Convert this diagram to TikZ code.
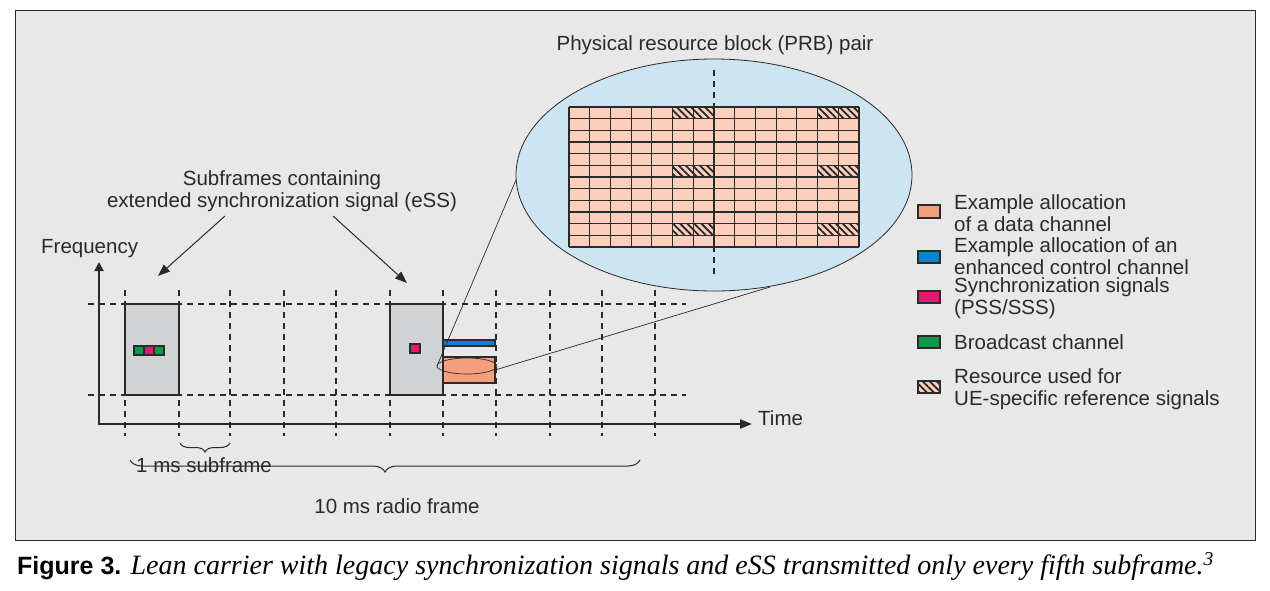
\documentclass[tikz,border=0pt]{standalone}
\usepackage{fontspec}
\setmainfont{Liberation Serif}
\setsansfont{Liberation Sans}
\usetikzlibrary{arrows.meta,decorations.pathreplacing,patterns.meta}
\definecolor{bg}{HTML}{E8E8E8}
\definecolor{sub}{HTML}{D0D2D4}
\definecolor{salm}{HTML}{F4A07E}
\definecolor{salml}{HTML}{FDD0BE}
\definecolor{bluec}{HTML}{0A84D0}
\definecolor{pinkc}{HTML}{E6176F}
\definecolor{greenc}{HTML}{0A9A4A}
\definecolor{ell}{HTML}{CDE4F2}
\definecolor{txt}{HTML}{2A2A2A}
\begin{document}
\begin{tikzpicture}[x=1pt,y=-1pt,
  lab/.style={font=\sffamily\fontsize{20.5}{22}\selectfont,text=txt,align=left,inner sep=0},
  dsh/.style={dash pattern=on 6pt off 5pt,line width=1.1pt,draw=txt},
  box/.style={draw=txt,line width=1.1pt},
  hatch/.style={pattern={Lines[angle=-45,distance=5pt,line width=1.8pt]},pattern color=black!85}]
\useasboundingbox (0,0) rectangle (1270,590);
\fill[white] (0,0) rectangle (1270,590);
\draw[fill=bg,draw=txt,line width=1pt] (15,10) rectangle (1255,540);
% caption
\node[anchor=west,inner sep=0] (cap) at (17,567) {\sffamily\bfseries\fontsize{25}{28}\selectfont Figure 3. \normalfont\rmfamily\itshape\fontsize{28}{30}\selectfont Lean carrier with legacy synchronization signals and eSS transmitted only every fifth subframe.\textsuperscript{3}};
% subframe boxes
\draw[box,fill=sub] (125,304) rectangle (179,395);
\draw[box,fill=sub] (390,304) rectangle (443,395);
% grid dashed
\foreach \x in {125,179,230,284,336,390,443,496,550,602,655}
  \draw[dsh] (\x,290) -- (\x,436);
\draw[dsh] (88,304) -- (686,304);
\draw[dsh] (88,395) -- (686,395);
% axes
\draw[line width=2.2pt,draw=txt,-{Triangle[length=9pt,width=9pt]}] (99,425) -- (99,262);
\draw[line width=2.2pt,draw=txt,-{Triangle[length=12pt,width=9pt]}] (98,424) -- (752,424);
\node[lab,anchor=west] (freq) at (41,249) {Frequency};
\node[lab,anchor=west] (time) at (758,418) {Time};
% small squares
\draw[box,fill=greenc] (134,346) rectangle (144,355);
\draw[box,fill=pinkc] (144,346) rectangle (154,355);
\draw[box,fill=greenc] (154,346) rectangle (164,355);
\draw[box,fill=pinkc] (410,344) rectangle (420,353);
\draw[box,fill=bluec] (443,340) rectangle (495,346);
\draw[box,fill=salm] (443,357) rectangle (495,383);
% big ellipse
\draw[fill=ell,draw=txt,line width=0.8pt] (714,175) ellipse [x radius=198,y radius=116];
\fill[salml] (569,107) rectangle (859,247);
\foreach \c in {5,6,12,13} \foreach \r in {0,5,10}
  \path[hatch] ({569+\c*290/14},{107+\r*140/12}) rectangle ++({290/14},{140/12});
\foreach \i in {0,...,14} \draw[line width=1.1pt,draw=txt] ({569+\i*290/14},107) -- ({569+\i*290/14},247);
\foreach \j in {0,...,12} \draw[line width=1.1pt,draw=txt] (569,{107+\j*140/12}) -- (859,{107+\j*140/12});
\draw[dsh] (714,70) -- (714,278);
\node[lab,anchor=center] (prb) at (715,45) {Physical resource block (PRB) pair};
% zoom lines
\coordinate (z1) at (437,366);
\coordinate (z2) at (495,370);
\draw[line width=0.7pt,draw=txt] (z1) -- (516,180);
\draw[line width=0.7pt,draw=txt] (z2) -- (770,287);
\draw[line width=0.7pt,draw=txt] (467,366) ellipse [x radius=30,y radius=8];
% label and arrows
\node[lab,align=center,anchor=center] (ss) at (282,191) {Subframes containing\\extended synchronization signal (eSS)};
\draw[line width=1pt,draw=txt,-{Triangle[length=12pt,width=9pt]}] (225,216) -- (158,276);
\draw[line width=1pt,draw=txt,-{Triangle[length=12pt,width=9pt]}] (333,216) -- (407,283);
% braces
\draw[line width=1pt,draw=txt,decorate,decoration={brace,amplitude=9pt}] (230,443) -- (180,443);
\node[lab,anchor=center] (one) at (204,465) {1 ms subframe};
\draw[line width=1pt,draw=txt,decorate,decoration={brace,amplitude=12pt,aspect=0.5}] (640,460) -- (130,460);
\node[lab,anchor=center] (ten) at (397,506) {10 ms radio frame};
% legend
\draw[box,fill=salm] (918,205) rectangle (940,218);
\draw[box,fill=bluec] (918,251) rectangle (940,263);
\draw[box,fill=pinkc] (918,291) rectangle (940,303);
\draw[box,fill=greenc] (918,336) rectangle (940,348);
\fill[salml] (918,381) rectangle (940,393);
\path[hatch] (918,381) rectangle (940,393);
\draw[box] (918,381) rectangle (940,393);
\node[lab,anchor=west] (l1) at (954,213) {Example allocation\\of a data channel};
\node[lab,anchor=west] (l2) at (954,256) {Example allocation of an\\enhanced control channel};
\node[lab,anchor=west] (l3) at (954,298) {Synchronization signals\\(PSS/SSS)};
\node[lab,anchor=west] (l4) at (954,342) {Broadcast channel};
\node[lab,anchor=west] (l5) at (954,389) {Resource used for\\UE-specific reference signals};
\end{tikzpicture}
\end{document}
